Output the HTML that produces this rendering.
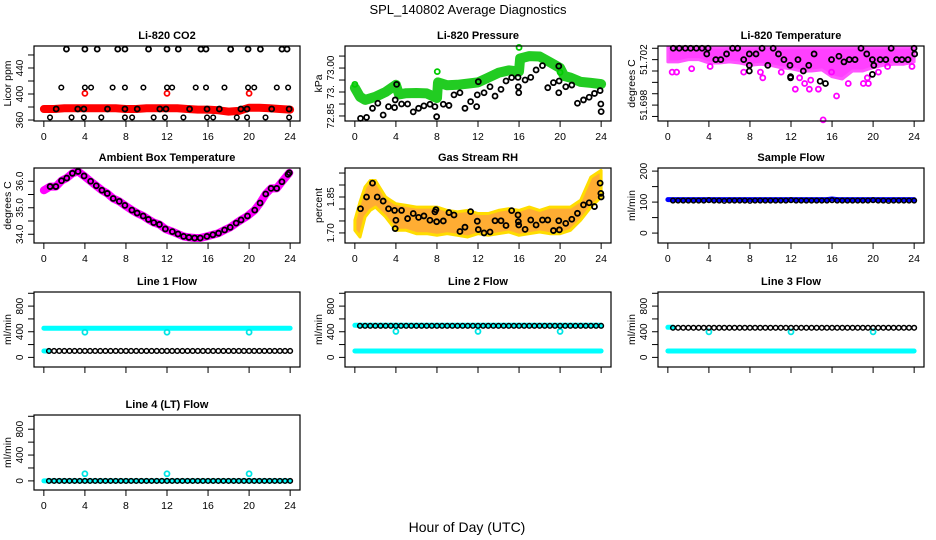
<!DOCTYPE html>
<html><head><meta charset="utf-8">
<style>
html,body{margin:0;padding:0;background:#fff;}
svg{display:block;font-family:"Liberation Sans",Arial,sans-serif;}
</style></head>
<body>
<svg id="chart" width="936" height="540" viewBox="0 0 936 540" xmlns="http://www.w3.org/2000/svg">
<rect width="936" height="540" fill="#fff"/>
<text x="468" y="14" font-size="13" text-anchor="middle">SPL_140802  Average Diagnostics</text>
<text x="467" y="532" font-size="14" text-anchor="middle">Hour of Day (UTC)</text>
</svg>
<script>
// ---------- data ----------
const xTicks=[0,4,8,12,16,20,24];
const T48=[0.5,1,1.5,2,2.5,3,3.5,4,4.5,5,5.5,6,6.5,7,7.5,8,8.5,9,9.5,10,10.5,11,11.5,12,12.5,13,13.5,14,14.5,15,15.5,16,16.5,17,17.5,18,18.5,19,19.5,20,20.5,21,21.5,22,22.5,23,23.5,24];
const hours25=[0,1,2,3,4,5,6,7,8,9,10,11,12,13,14,15,16,17,18,19,20,21,22,23,24];
const outlierHours=[4,12,20];

// CO2
const co2Red=[377,377,378,378,378,378,378,378,377,377,378,378,378,378,377,376,376,375,373,374,379,379,378,377,376];
const co2RedOutliers=[401,401,401];
const co2TopX=[2.2,4.0,5.2,7.2,7.9,10.2,12.0,13.1,15.3,15.8,18.2,19.9,21.1,23.2,23.7];
const co2TopVal=469;
const co2UpX=[1.7,4.0,4.6,6.7,7.9,9.7,12,12.5,14.8,15.8,17.6,19.9,20.5,22.7,23.8];
const co2UpVal=410;
const co2MidX=[1.2,3.3,3.9,6.2,7.9,9.1,11.3,11.9,14.2,15.9,17.1,19.2,19.8,22.2,23.9];
const co2MidVal=377;
const co2LowX=[0.6,2.7,3.9,5.6,7.9,8.6,10.7,11.8,13.6,15.9,16.5,18.8,19.8,21.6,23.9];
const co2LowVal=364;

// Pressure
const presGreenX=[0,0.5,1,2,3,4,4.3,5,6,7,8,8.1,9,10,11,12,13,14,15,16,16.1,17,18,19,20,20.4,21,22,23,24];
const presGreen=[72.967,72.930,72.917,72.930,72.950,72.980,72.940,72.945,72.946,72.944,72.925,72.990,72.978,72.980,72.985,72.990,73.010,73.030,73.040,73.035,73.090,73.100,73.098,73.075,73.050,73.017,73.010,72.992,72.988,72.983];
const presGreenOutX=[0,8.03,16,20];
const presGreenOut=[72.982,73.035,73.136,73.032];
const presBlackX=[0.55,1.14,1.72,2.24,2.76,3.28,3.87,4.07,3.93,4.55,5.14,5.69,6.21,6.73,7.32,7.80,7.97,8.62,9.17,9.66,10.24,10.73,11.28,11.93,12.03,11.87,12.59,13.17,13.66,14.24,14.73,15.28,15.90,15.93,15.97,16.59,17.14,17.66,18.28,18.80,19.35,19.87,19.90,19.87,20.55,21.14,21.69,22.28,22.83,23.35,23.90,23.97,24.0];
const presBlack=[72.840,72.844,72.882,72.903,72.854,72.889,72.885,72.982,72.917,72.900,72.900,72.867,72.882,72.892,72.899,72.889,72.847,72.899,72.894,72.938,72.947,72.882,72.910,72.938,72.993,72.889,72.947,72.972,72.933,72.961,72.996,73.010,73.011,72.972,72.947,73.000,73.011,73.042,73.060,72.968,72.989,73.058,72.996,72.947,72.972,72.979,72.903,72.917,72.928,72.944,72.956,72.900,72.868];

// Li-820 temperature
const tempBandLow=[51.7018,51.7018,51.7020,51.7020,51.7017,51.7017,51.7018,51.7017,51.7015,51.7016,51.7015,51.7013,51.7012,51.7010,51.7010,51.7011,51.7005,51.7003,51.7010,51.7010,51.7013,51.7015,51.7016,51.7016,51.7018];
const tempBandHigh=51.7031;
const tempMagX=[0.42,0.85,2.32,4.12,7.39,9.02,9.25,11.05,12.42,12.84,13.33,13.79,14.67,15.13,16.44,13.92,15.95,17.58,19.05,19.54,19.44,20.52,21.41,23.79];
const tempMag=[51.7009,51.7009,51.7012,51.7014,51.7009,51.7009,51.7004,51.7009,51.6994,51.7004,51.6999,51.6994,51.6994,51.6967,51.6988,51.7002,51.7009,51.6999,51.6999,51.6999,51.7004,51.7009,51.7014,51.7014];
const tempBlackX=[0.52,1.11,1.70,2.22,2.78,3.33,3.92,3.79,4.67,5.16,5.72,6.31,6.80,7.39,7.94,7.94,7.94,8.59,9.18,9.74,10.26,10.78,11.31,11.90,11.96,11.96,12.68,13.20,13.73,14.25,14.84,15.36,15.95,16.67,17.16,17.68,18.24,18.82,19.38,19.93,20.07,19.93,20.69,21.24,21.76,22.29,22.81,23.40,23.99,24.05];
const tempBlack=[51.7030,51.7030,51.7030,51.7030,51.7030,51.7030,51.7030,51.7025,51.7020,51.7020,51.7025,51.7030,51.7030,51.7020,51.7025,51.7015,51.7010,51.7025,51.7030,51.7015,51.7030,51.7025,51.7020,51.7015,51.7005,51.7004,51.7020,51.7010,51.7015,51.7025,51.7001,51.6999,51.7020,51.7023,51.7018,51.7020,51.7020,51.7030,51.7025,51.7020,51.7015,51.7007,51.7020,51.7020,51.7030,51.7020,51.7020,51.7020,51.7030,51.7025];

// Ambient box temperature
const ambX=[0,0.61,1.17,1.72,2.23,2.78,3.33,3.92,4.56,5.11,5.66,6.18,6.76,7.35,7.90,8.58,9.09,9.68,10.19,10.71,11.26,11.84,12.52,13.07,13.62,14.14,14.69,15.24,15.89,16.47,17.02,17.61,18.16,18.74,19.22,19.84,20.55,21.07,21.62,22.14,22.69,23.20,23.79,23.92];
const ambT=[35.66,35.80,35.80,36.02,36.12,36.30,36.37,36.20,36.00,35.83,35.66,35.54,35.35,35.24,35.09,34.91,34.80,34.69,34.56,34.44,34.37,34.20,34.10,34.01,33.92,33.88,33.86,33.86,33.92,33.98,34.04,34.16,34.26,34.42,34.54,34.69,34.91,35.18,35.52,35.73,35.73,35.98,36.26,36.32];

// Gas stream RH
const rhBandX=[0,0.5,1,1.5,2,3,4,5,6,7,8,9,10,11,12,13,14,15,16,17,18,19,20,21,22,23,24];
const rhBandHigh=[1.753,1.829,1.892,1.919,1.919,1.850,1.822,1.815,1.808,1.808,1.808,1.794,1.788,1.794,1.781,1.781,1.794,1.801,1.794,1.808,1.794,1.808,1.808,1.808,1.836,1.933,1.961];
const rhBandLow=[1.711,1.683,1.767,1.794,1.808,1.767,1.711,1.711,1.697,1.697,1.690,1.697,1.690,1.683,1.697,1.690,1.697,1.704,1.690,1.697,1.704,1.697,1.697,1.711,1.753,1.808,1.850];
const rhBlackX=[0.55,1.14,1.72,2.18,2.76,3.28,3.87,4.00,3.93,4.55,5.14,5.69,6.21,6.73,7.32,7.80,7.90,7.97,8.62,9.17,9.66,10.24,10.73,11.28,11.93,12.03,12.59,13.17,13.66,14.24,14.73,15.28,15.90,15.93,15.97,16.59,17.14,17.66,18.28,18.80,19.35,19.87,19.93,20.55,21.14,21.69,22.28,22.83,23.35,23.90,23.97,24.00];
const rhBlack=[1.801,1.850,1.908,1.850,1.833,1.801,1.794,1.753,1.718,1.794,1.760,1.781,1.765,1.771,1.753,1.788,1.797,1.747,1.750,1.785,1.775,1.706,1.724,1.789,1.749,1.714,1.700,1.704,1.751,1.751,1.731,1.793,1.775,1.747,1.733,1.715,1.754,1.733,1.754,1.754,1.710,1.751,1.713,1.740,1.757,1.782,1.817,1.826,1.810,1.908,1.865,1.850];

// Flows (half-hourly values, T48)
const sampleBlue=[108,108,108,108,108,108,108,108,108,108,108,108,108,108,108,108,108,108,108,108,108,108,108,108,108,108,108,108,108,108,108,110,108,108,108,108,108,108,108,108,108,108,108,108,108,108,108,108];
const sampleBlack=[105,105,105,105,105,105,105,106,105,105,104,105,105,105,105,104,105,105,105,105,105,105,105,106,105,105,105,105,105,105,105,106,105,105,105,105,105,105,105,106,105,105,104,105,105,105,105,105];
const line1Cyan=[455,455,455,455,455,455,455,455,455,455,455,455,455,455,455,455,455,455,455,455,455,455,455,455,455,455,455,455,455,455,455,455,455,455,455,455,455,455,455,455,455,455,455,455,455,455,455,455];
const line1Black=[100,100,100,100,100,100,100,100,100,100,100,100,100,100,100,100,100,100,100,100,100,100,100,100,100,100,100,100,100,100,100,100,100,100,100,100,100,100,100,100,100,100,100,100,100,100,100,100];
const line1Out=[392,392,392];
const line2Cyan=[500,500,500,500,500,500,500,500,500,500,500,500,500,500,500,500,500,500,500,500,500,500,500,500,500,500,500,500,500,500,500,500,500,500,500,500,500,500,500,500,500,500,500,500,500,500,500,500];
const line2CyanLow=[100,100,100,100,100,100,100,100,100,100,100,100,100,100,100,100,100,100,100,100,100,100,100,100,100,100,100,100,100,100,100,100,100,100,100,100,100,100,100,100,100,100,100,100,100,100,100,100];
const line2Black=[492,492,492,492,492,492,492,492,492,492,492,492,492,492,492,492,492,492,492,492,492,492,492,492,492,492,492,492,492,492,492,492,492,492,492,492,492,492,492,492,492,492,492,492,492,492,492,492];
const line2Out=[405,405,405];
const line3CyanLow=[100,100,100,100,100,100,100,100,100,100,100,100,100,100,100,100,100,100,100,100,100,100,100,100,100,100,100,100,100,100,100,100,100,100,100,100,100,100,100,100,100,100,100,100,100,100,100,100];
const line3Black=[462,462,462,462,462,462,462,462,462,462,462,462,462,462,462,462,462,462,462,462,462,462,462,462,462,462,462,462,462,462,462,462,462,462,462,462,462,462,462,462,462,462,462,462,462,462,462,462];
const line3Out=[398,398,398];
const line4Cyan=[0,0,0,0,0,0,0,0,0,0,0,0,0,0,0,0,0,0,0,0,0,0,0,0,0,0,0,0,0,0,0,0,0,0,0,0,0,0,0,0,0,0,0,0,0,0,0,0];
const line4Black=[0,0,0,0,0,0,0,0,0,0,0,0,0,0,0,0,0,0,0,0,0,0,0,0,0,0,0,0,0,0,0,0,0,0,0,0,0,0,0,0,0,0,0,0,0,0,0,0];
const line4Out=[110,110,110];

// ---------- drawing ----------
const NS='http://www.w3.org/2000/svg';
const svg=document.getElementById('chart');
const COLS=[[34,300],[345,611],[658,924]];
const ROWS=[[46,121],[168,243],[292,367],[415,490]];
let clipN=0;
function el(tag,attrs,parent){const e=document.createElementNS(NS,tag);for(const k in attrs)e.setAttribute(k,attrs[k]);(parent||svg).appendChild(e);return e;}

function makePanel(key,col,row,title,yMin,yMax,yTicks,yLabels,ylab,showX){
  const L=COLS[col][0],R=COLS[col][1],T=ROWS[row][0],B=ROWS[row][1];
  const g=el('g',{});
  
  
  const sx=v=>L+(v+0.96)/25.92*(R-L);
  const sy=v=>B-(v-yMin)/(yMax-yMin)*(B-T);
  const t=el('text',{x:(L+R)/2,y:T-7,'font-size':11,'font-weight':'bold','text-anchor':'middle'},g);
  t.textContent=title;
  
  
  const xa=el('line',{x1:sx(0),x2:sx(24),y1:B,y2:B,stroke:'#000'},g);
  
  
  xTicks.forEach(v=>{
    const tk=el('line',{x1:sx(v),x2:sx(v),y1:B,y2:B+6,stroke:'#000'},g);
    
    
    if(showX){
      const tl=el('text',{x:sx(v),y:B+19,'font-size':10.5,'text-anchor':'middle'},g);
      tl.textContent=String(v);
      
      
    }
  });
  yTicks.forEach((v,i)=>{
    const tk=el('line',{x1:L-6,x2:L,y1:sy(v),y2:sy(v),stroke:'#000'},g);
    
    
    if(yLabels[i]){
      const tl=el('text',{x:L-11,y:sy(v),'font-size':10,'text-anchor':'middle',transform:`rotate(-90 ${L-11} ${sy(v)})`},g);
      tl.textContent=yLabels[i];
      
      
    }
  });
  const ya=el('line',{x1:L,x2:L,y1:sy(yTicks[0]),y2:sy(yTicks[yTicks.length-1]),stroke:'#000'},g);
  
  
  const yl=el('text',{x:L-23,y:(T+B)/2,'font-size':10.5,'text-anchor':'middle',transform:`rotate(-90 ${L-23} ${(T+B)/2})`},g);
  yl.textContent=ylab;
  
  
  const cid='clip'+(clipN++);
  const cp=el('clipPath',{id:cid},g);
  el('rect',{x:L-3,y:T-3,width:R-L+6,height:B-T+6},cp);
  const plot=el('g',{'clip-path':`url(#${cid})`},g);
  
  
  const box=el('rect',{x:L,y:T,width:R-L,height:B-T,fill:'none',stroke:'#000','stroke-width':1.2},g);
  
  
  return {plot,sx,sy};
}
function pts(P,xs,ys,color,name,r,sw){
  xs.forEach((x,i)=>{
    const c=el('circle',{cx:P.sx(x),cy:P.sy(ys[i]),r:r||2.5,fill:'none',stroke:color,'stroke-width':sw||1.8},P.plot);
    
    
  });
}
function band(P,xs,ys,color,w,name){
  const d=xs.map((x,i)=>`${P.sx(x).toFixed(1)},${P.sy(ys[i]).toFixed(1)}`).join(' ');
  const pl=el('polyline',{points:d,fill:'none',stroke:color,'stroke-width':w,'stroke-linejoin':'round','stroke-linecap':'round'},P.plot);
  
  
}
function area(P,xs,hi,lo,fill,stroke,name,op){
  const up=xs.map((x,i)=>`${P.sx(x).toFixed(1)},${P.sy(hi[i]).toFixed(1)}`);
  const dn=xs.map((x,i)=>`${P.sx(x).toFixed(1)},${P.sy(lo[i]).toFixed(1)}`).reverse();
  const pg=el('polygon',{points:up.concat(dn).join(' '),fill:fill,'fill-opacity':op||1,stroke:stroke,'stroke-width':3,'stroke-linejoin':'round'},P.plot);
  
  
}
const rep=(v,n)=>Array(n).fill(v);

let P=makePanel('co2',0,0,'Li-820 CO2',358.5,473.8,[360,380,400,420,440,460],['360','','400','','440',''],'Licor ppm',true);
band(P,hours25,co2Red,'#ff0000',8,'co2-red-series');
pts(P,outlierHours,co2RedOutliers,'#ff0000','co2-red-outlier');
pts(P,co2TopX,rep(co2TopVal,co2TopX.length),'#000','co2-black-point');
pts(P,co2UpX,rep(co2UpVal,co2UpX.length),'#000','co2-black-point',2.3,1.5);
pts(P,co2MidX,rep(co2MidVal,co2MidX.length),'#000','co2-black-point');
pts(P,co2LowX,rep(co2LowVal,co2LowX.length),'#000','co2-black-point',2.3,1.5);

P=makePanel('pressure',1,0,'Li-820 Pressure',72.829,73.142,[72.85,72.90,72.95,73.00,73.05,73.10],['72.85','','73.','','73.00',''],'kPa',true);
band(P,presGreenX,presGreen,'#22cc22',10,'pressure-green-series');
pts(P,presGreenOutX,presGreenOut,'#00cc00','pressure-green-outlier');
pts(P,presBlackX,presBlack,'#000','pressure-black-point');

P=makePanel('li820-temp',2,0,'Li-820 Temperature',51.6966,51.7032,[51.697,51.698,51.699,51.700,51.701,51.702,51.703],['','51.698','','','','51.702',''],'degrees C',true);
area(P,hours25,rep(tempBandHigh,25),tempBandLow,'#ff00ff','#ff55ff','li820-temp-magenta-band',0.75);
pts(P,tempMagX,tempMag,'#ff00ff','li820-temp-magenta-point');
pts(P,tempBlackX,tempBlack,'#000','li820-temp-black-point');

P=makePanel('ambient',0,1,'Ambient Box Temperature',33.67,36.50,[34.0,34.5,35.0,35.5,36.0],['34.0','','35.0','','36.0'],'degrees C',true);
band(P,ambX,ambT,'#ff00ff',8,'ambient-magenta-series');
pts(P,ambX.slice(1),ambT.slice(1),'#000','ambient-black-point');

P=makePanel('rh',1,1,'Gas Stream RH',1.658,1.971,[1.70,1.75,1.80,1.85,1.90,1.95],['1.70','','','1.85','',''],'percent',true);
area(P,rhBandX,rhBandHigh,rhBandLow,'#ff9900','#ffdd00','rh-orange-band',0.8);
pts(P,rhBlackX,rhBlack,'#000','rh-black-point');

P=makePanel('sample-flow',2,1,'Sample Flow',-32,210,[0,50,100,150,200],['0','','100','','200'],'ml/min',true);
band(P,[0].concat(T48),[108].concat(sampleBlue),'#0000ff',5,'sample-flow-blue-series');
pts(P,T48,sampleBlack,'#000','sample-flow-black-point',2.3,1.5);

const fTicks=[0,200,400,600,800,1000], fLabels=['0','','400','','800',''];
P=makePanel('line1',0,2,'Line 1 Flow',-150,1020,fTicks,fLabels,'ml/min',false);
band(P,[0].concat(T48),[455].concat(line1Cyan),'#00ffff',5,'line1-cyan-series');
band(P,[0,0.5],[100,100],'#00ffff',5,'line1-cyan-start');
pts(P,outlierHours,line1Out,'#00e5e5','line1-cyan-outlier');
pts(P,T48,line1Black,'#000','line1-black-point',2.3,1.5);

P=makePanel('line2',1,2,'Line 2 Flow',-150,1020,fTicks,fLabels,'ml/min',false);
band(P,[0].concat(T48),[500].concat(line2Cyan),'#00ffff',5,'line2-cyan-series');
band(P,[0].concat(T48),[100].concat(line2CyanLow),'#00ffff',5,'line2-cyan-low-series');
pts(P,outlierHours,line2Out,'#00e5e5','line2-cyan-outlier');
pts(P,T48,line2Black,'#000','line2-black-point',2.3,1.5);

P=makePanel('line3',2,2,'Line 3 Flow',-150,1020,fTicks,fLabels,'ml/min',false);
band(P,[0,0.5],[470,470],'#00ffff',5,'line3-cyan-start');
band(P,[0].concat(T48),[100].concat(line3CyanLow),'#00ffff',5,'line3-cyan-low-series');
pts(P,outlierHours,line3Out,'#00e5e5','line3-cyan-outlier');
pts(P,T48,line3Black,'#000','line3-black-point',2.3,1.5);

P=makePanel('line4',0,3,'Line 4 (LT) Flow',-141,1020,fTicks,fLabels,'ml/min',true);
band(P,[0].concat(T48),[0].concat(line4Cyan),'#00ffff',5,'line4-cyan-series');
pts(P,outlierHours,line4Out,'#00e5e5','line4-cyan-outlier');
pts(P,T48,line4Black,'#000','line4-black-point',2.3,1.5);
</script>
</body></html>
